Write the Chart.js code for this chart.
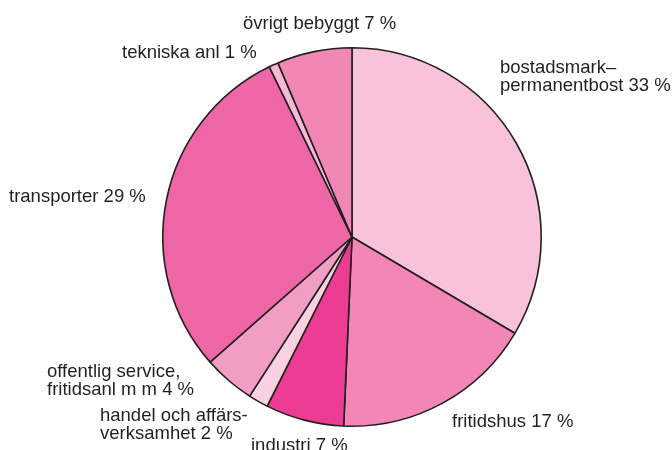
<!DOCTYPE html>
<html>
<head>
<meta charset="utf-8">
<script src="https://cdn.jsdelivr.net/npm/chart.js@4"></script>
<style>
  body { margin: 0; background: #fff; }
  #wrap { width: 672px; height: 450px; }
</style>
</head>
<body>
<div id="wrap"><canvas id="pie" width="672" height="450"></canvas></div>
<script>
// land use shares, clockwise from 12 o'clock (slice sizes as drawn; labels carry the rounded figures)
const categories = ['bostadsmark–permanentbost', 'fritidshus', 'industri', 'handel och affärsverksamhet',
    'offentlig service, fritidsanl m m', 'transporter', 'tekniska anl', 'övrigt bebyggt'];
const shares = [33.5, 17.2, 6.7, 1.7, 4.4, 29.3, 0.8, 6.4];
const labelLines = [
    ['bostadsmark–', 'permanentbost 33 %'],
    ['fritidshus 17 %'],
    ['industri 7 %'],
    ['handel och affärs-', 'verksamhet 2 %'],
    ['offentlig service,', 'fritidsanl m m 4 %'],
    ['transporter 29 %'],
    ['tekniska anl 1 %'],
    ['övrigt bebyggt 7 %']
];

const sliceColors = ['#F7C2DA', '#F386B6', '#EC3D93', '#F9D1E3', '#F29DC4', '#EE66A6', '#F6B9D4', '#F187B5'];

// where each label's first line starts (left x, baseline y)
const labelAt = [[500, 73], [452, 427], [251, 451], [100, 421], [47, 377], [9, 202], [122, 58], [243, 29]];

const labelPlugin = {
    id: 'sliceLabels',
    afterDraw(chart) {
        const ctx = chart.ctx;
        ctx.save();
        ctx.fillStyle = '#231F20';
        ctx.font = '18.5px "Liberation Sans", Arial, sans-serif';
        ctx.textBaseline = 'alphabetic';
        ctx.textAlign = 'left';
        labelLines.forEach((lines, i) => {
            const [x, y] = labelAt[i];
            lines.forEach((t, j) => ctx.fillText(t, x, y + j * 18));
        });
        ctx.restore();
    }
};

new Chart(document.getElementById('pie'), {
    type: 'pie',
    data: {
        labels: categories,
        datasets: [{
            data: shares,
            backgroundColor: sliceColors,
            borderColor: '#231F20',
            borderWidth: 1.6
        }]
    },
    options: {
        responsive: false,
        animation: false,
        layout: { padding: { left: 162, right: 130, top: 47, bottom: 23 } },
        plugins: { legend: { display: false }, tooltip: { enabled: false } }
    },
    plugins: [labelPlugin]
});
</script>
</body>
</html>
